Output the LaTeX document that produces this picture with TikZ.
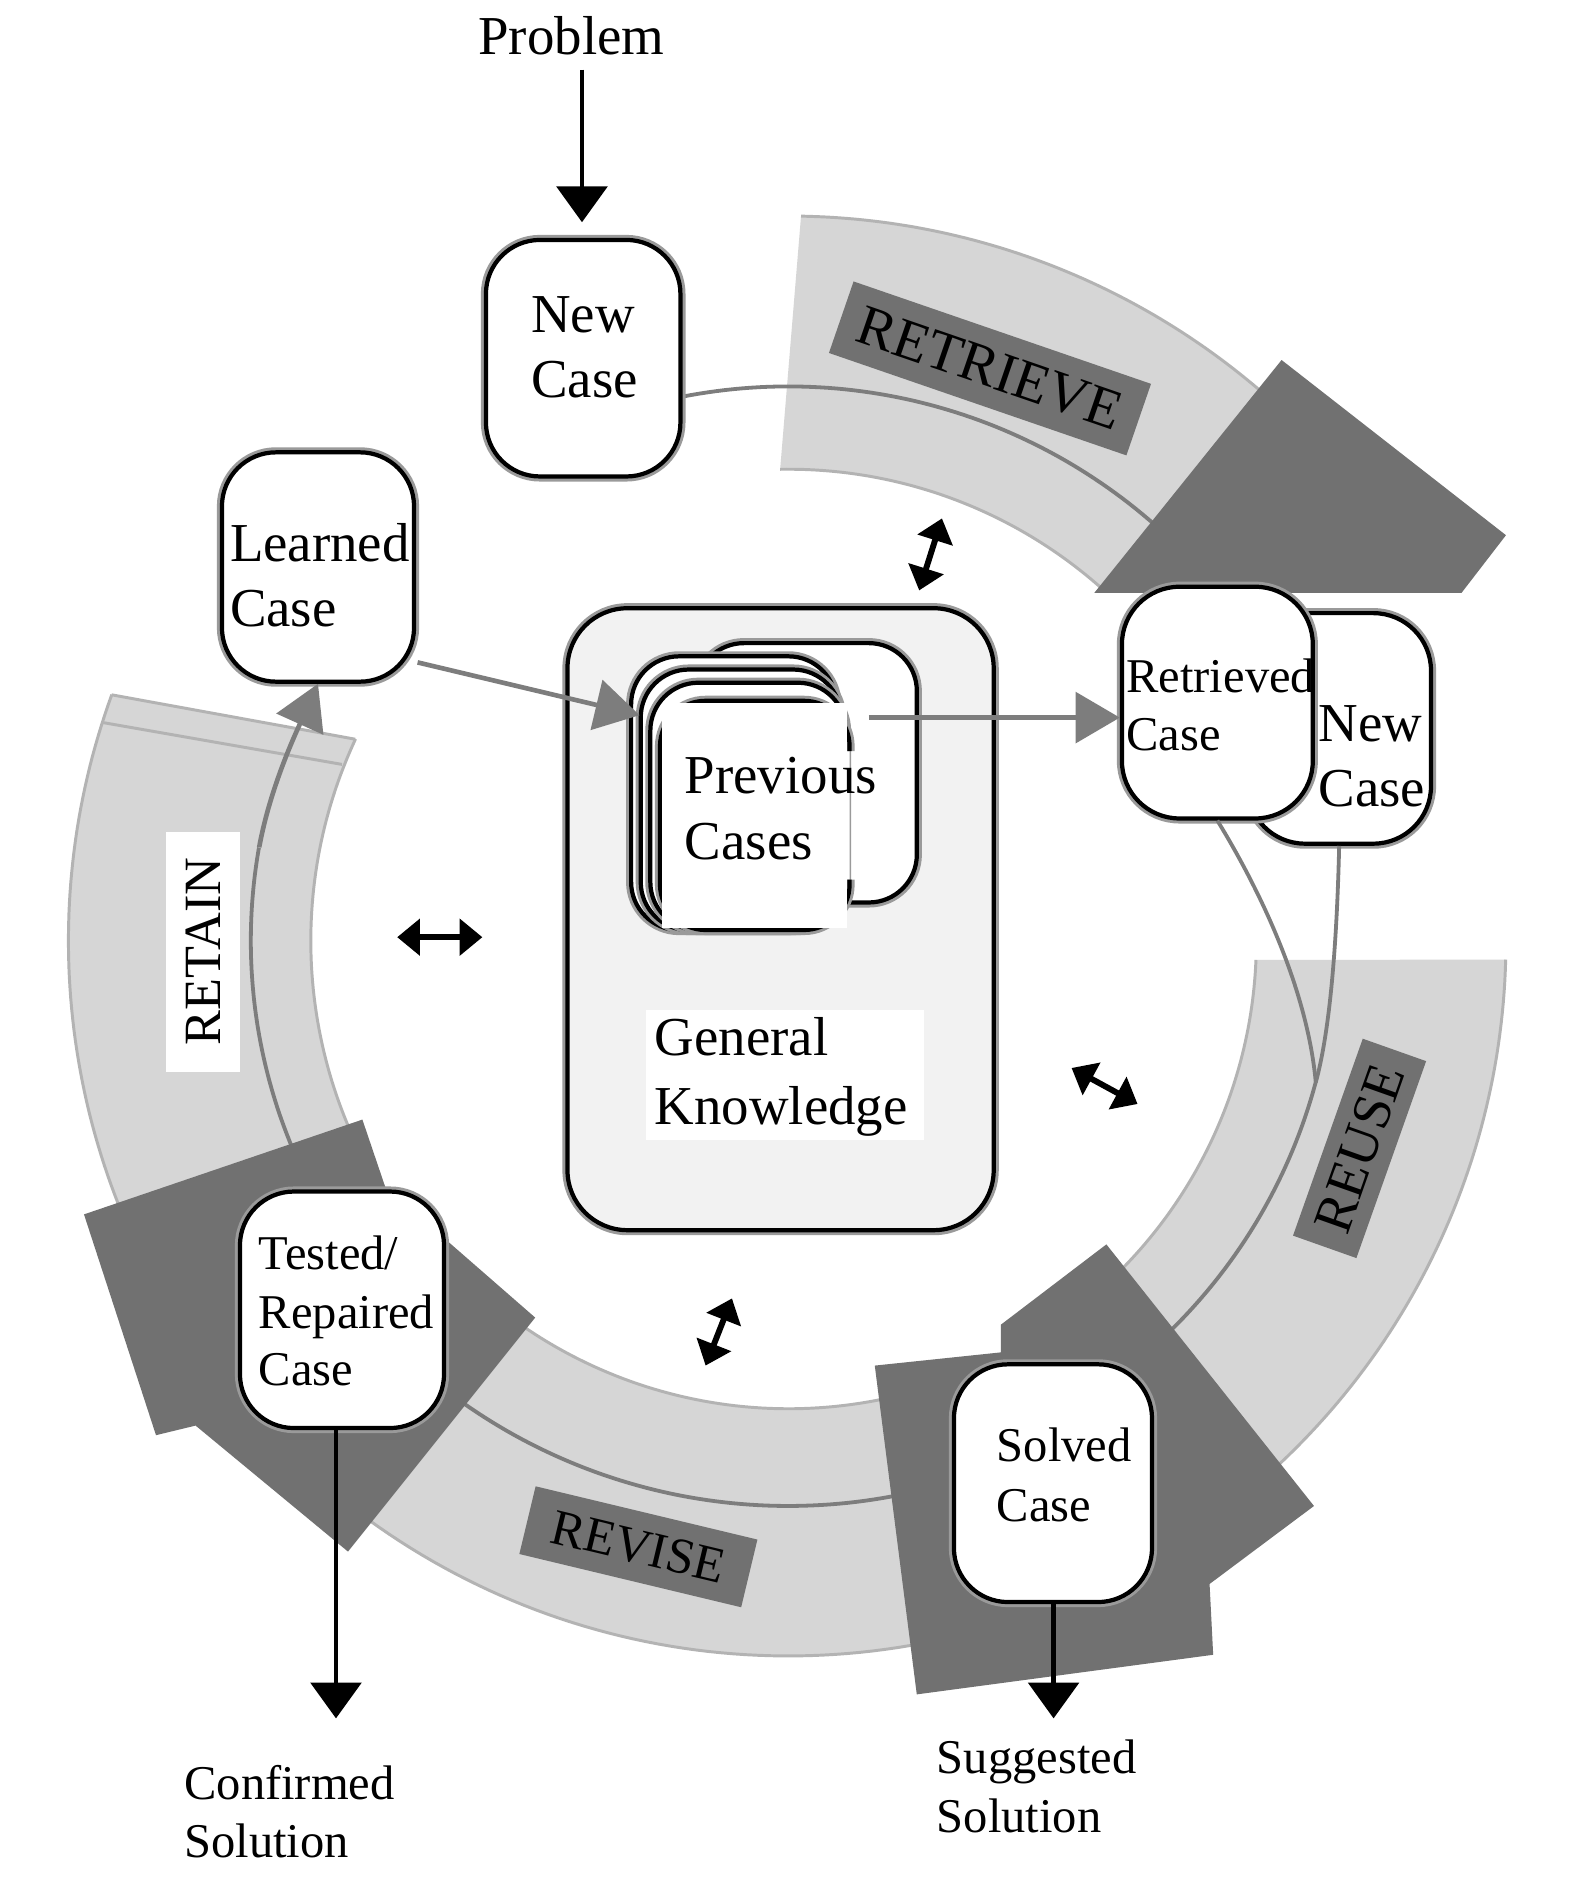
\documentclass[tikz,border=0pt]{standalone}
\usepackage{fontspec}
\setmainfont{Liberation Serif}
\usetikzlibrary{arrows.meta}
\definecolor{bandc}{HTML}{D6D6D6}
\definecolor{bedgec}{HTML}{B3B3B3}
\definecolor{darkc}{HTML}{717171}
\definecolor{flowc}{HTML}{7D7D7D}
\definecolor{gkc}{HTML}{F2F2F2}
\definecolor{haloc}{HTML}{9A9A9A}
\begin{document}
\begin{tikzpicture}[x=0.01cm,y=-0.01cm,
  bandfill/.style={fill=bandc},
  bedge/.style={draw=bedgec,line width=0.7pt},
  flowline/.style={draw=flowc,line width=0.9pt},
  casebox/.style={rectangle,draw=black,line width=1pt,fill=white,rounded corners=0.45cm,inner sep=0pt,preaction={draw=haloc,line width=2.4pt}},
  stackbox/.style={casebox,rounded corners=0.4cm},
  blk/.style={draw=black,line width=1pt,-{Triangle[length=8.5pt,width=12pt]}},
  garrow/.style={draw=flowc,line width=1.1pt,-{Triangle[length=10.5pt,width=12pt]}},
  dbl/.style={draw=black,line width=1.4pt,{Triangle[length=5.4pt,width=8.5pt]}-{Triangle[length=5.4pt,width=8.5pt]}},
  lab/.style={fill=darkc,inner sep=0pt},
  big/.style={font=\fontsize{13}{15}\selectfont,inner sep=0pt,anchor=base west},
  small/.style={font=\fontsize{11.5}{13}\selectfont,inner sep=0pt,anchor=base west}]

\path[use as bounding box,fill=white] (0,0) rectangle (1312.5,1566.7);

% ---------------- bands ----------------
% RETRIEVE
\fill[bandfill] plot[domain=89:48,samples=60] ({657+604*cos(\x)},{784-604*sin(\x)}) -- plot[domain=48:91,samples=60] ({657+393*cos(\x)},{784-393*sin(\x)}) -- cycle;
\draw[bedge] plot[domain=89:48,samples=60] ({657+604*cos(\x)},{784-604*sin(\x)});
\draw[bedge] plot[domain=91:48,samples=60] ({657+393*cos(\x)},{784-393*sin(\x)});
% RETAIN
\fill[bandfill] plot[domain=160:210,samples=60] ({657+600*cos(\x)},{784-600*sin(\x)}) -- plot[domain=210:155,samples=60] ({657+398*cos(\x)},{784-398*sin(\x)}) -- cycle;
\draw[bedge] plot[domain=160:210,samples=60] ({657+600*cos(\x)},{784-600*sin(\x)});
\draw[bedge] plot[domain=155:210,samples=60] ({657+398*cos(\x)},{784-398*sin(\x)});
\draw[bedge] (93,579) -- (296,616);
\draw[bedge] (85,602) -- (285,637);
% REUSE
\fill[bandfill] plot[domain=-1.5:-52,samples=60] ({657+598*cos(\x)},{784-598*sin(\x)}) -- plot[domain=-52:-2.35,samples=60] ({657+390*cos(\x)},{784-390*sin(\x)}) -- cycle;
\draw[bedge] plot[domain=-1.5:-52,samples=60] ({657+598*cos(\x)},{784-598*sin(\x)});
\draw[bedge] plot[domain=-2.35:-52,samples=60] ({657+390*cos(\x)},{784-390*sin(\x)});
% REVISE
\fill[bandfill] plot[domain=-70:-130,samples=60] ({657+596*cos(\x)},{784-596*sin(\x)}) -- plot[domain=-130:-70,samples=60] ({657+390*cos(\x)},{784-390*sin(\x)}) -- cycle;
\draw[bedge] plot[domain=-70:-130,samples=60] ({657+596*cos(\x)},{784-596*sin(\x)});
\draw[bedge] plot[domain=-70:-130,samples=60] ({657+390*cos(\x)},{784-390*sin(\x)});

% ---------------- flow lines on the ring ----------------
\draw[flowline] plot[domain=101:48.5,samples=60] ({657+462*cos(\x)},{784-462*sin(\x)});
\draw[flowline] plot[domain=-15:-50,samples=60] ({657+455*cos(\x)},{784-455*sin(\x)});
\draw[flowline] plot[domain=-75:-128,samples=60] ({657+471*cos(\x)},{784-471*sin(\x)});
\draw[flowline] plot[domain=205:170,samples=60] ({657+448*cos(\x)},{784-448*sin(\x)});

% ---------------- big arrow heads ----------------
\fill[darkc] (1068,300) -- (1255,446) -- (1218,494) -- (912,494) -- cycle;
\fill[darkc] (922,1037) -- (1095,1255) -- (1008,1320) -- (1011,1379) -- (764,1412) -- (729,1138) -- (834,1127) -- (834,1104) -- cycle;
\fill[darkc] (70,1012) -- (302,933) -- (321,989) -- (446,1098) -- (290,1293) -- (163,1188) -- (130,1196) -- cycle;

% ---------------- phase labels ----------------
\node[lab,rotate=-19,minimum width=2.62cm,minimum height=0.63cm,font=\fontsize{13.5}{15}\selectfont] (retrieve) at (825,307) {RETRIEVE};
\node[lab,rotate=-13.5,minimum width=1.9cm,minimum height=0.58cm,font=\fontsize{12}{14}\selectfont] (revise) at (532,1289) {REVISE};
\node[lab,rotate=70.5,minimum width=1.74cm,minimum height=0.56cm,font=\fontsize{13}{15}\selectfont] (reuse) at (1133,957) {REUSE};
\node[fill=white,inner sep=0pt,rotate=90,minimum width=2.0cm,minimum height=0.62cm,font=\fontsize{12.4}{14}\selectfont] (retain) at (169,793) {RETAIN};

% ---------------- general knowledge ----------------
\node[casebox,fill=gkc,rounded corners=0.5cm,minimum width=3.55cm,minimum height=5.18cm] (gk) at (650.5,766) {};
\node[fill=white,inner sep=0pt,minimum width=2.32cm,minimum height=1.08cm] (gkl) at (654,896) {};
\node[big] (tgk1) at (545,880) {General};
\node[big] (tgk2) at (545,937) {Knowledge};

% ---------------- previous cases stack ----------------
\node[stackbox,minimum width=1.84cm,minimum height=2.16cm] (pr) at (672,644) {};
\node[stackbox,minimum width=1.71cm,minimum height=2.28cm] (pc1) at (611.5,661) {};
\node[stackbox,minimum width=1.67cm,minimum height=2.17cm] (pc2) at (617.5,666.5) {};
\node[stackbox,minimum width=1.63cm,minimum height=2.06cm] (pc3) at (623.5,672) {};
\node[rectangle,fill=white,rounded corners=0.38cm,inner sep=0pt,minimum width=1.58cm,minimum height=1.91cm] (pc) at (629,679.5) {};
\draw[haloc,line width=2.4pt,rounded corners=0.38cm] (708,626) -- (708,584) -- (550,584) -- (550,775) -- (708,775) -- (708,733);
\draw[black,line width=1pt,rounded corners=0.38cm] (708,626) -- (708,584) -- (550,584) -- (550,775) -- (708,775) -- (708,733);
\fill[white] (552,586) rectangle (706,773);
\node[big] (tpc1) at (570,661) {Previous};
\node[big] (tpc2) at (570,716) {Cases};

% ---------------- case boxes ----------------
\node[casebox,minimum width=1.62cm,minimum height=1.97cm] (nc) at (486,298.5) {};
\node[casebox,minimum width=1.60cm,minimum height=1.91cm] (lc) at (265,472.5) {};
\node[casebox,rounded corners=0.48cm,minimum width=1.53cm,minimum height=1.92cm] (nc2) at (1116,607) {};
\node[casebox,rounded corners=0.48cm,minimum width=1.59cm,minimum height=1.93cm] (rc) at (1014.5,585.5) {};
\node[casebox,minimum width=1.70cm,minimum height=1.97cm] (tc) at (285,1091.5) {};
\node[casebox,minimum width=1.65cm,minimum height=1.98cm] (sc) at (877.5,1236) {};

\node[big] (tnc1) at (442,277) {New};
\node[big] (tnc2) at (442,331) {Case};
\node[big] (tlc1) at (191,468) {Learned};
\node[big] (tlc2) at (191,522) {Case};
\node[small] (trc1) at (938,577) {Retrieved};
\node[small] (trc2) at (938,625) {Case};
\node[big] (tnn1) at (1098,618) {New};
\node[big] (tnn2) at (1098,672) {Case};
\node[small] (ttc1) at (215,1058) {Tested/};
\node[small] (ttc2) at (215,1107) {Repaired};
\node[small] (ttc3) at (215,1155) {Case};
\node[small] (tsc1) at (830,1218) {Solved};
\node[small] (tsc2) at (830,1268) {Case};

\node[big] (tprob) at (398,45) {Problem};
\node[small] (tcs1) at (153,1500) {Confirmed};
\node[small] (tcs2) at (153,1548) {Solution};
\node[small] (tss1) at (780,1478) {Suggested};
\node[small] (tss2) at (780,1527) {Solution};

% ---------------- connectors ----------------
\coordinate (p1) at (485,58);
\draw[blk,shorten >=3.7pt] (p1) -- (p1 |- nc.north);
\coordinate (cs) at (280,1432);
\draw[blk] (cs |- tc.south) -- (cs);
\coordinate (ss) at (878,1432);
\draw[blk] (ss |- sc.south) -- (ss);

\coordinate (lp) at (348,552);
\coordinate (lpe) at (533,596);
\draw[garrow] (lp) -- (lpe);
\coordinate (pr1) at (724,598);
\draw[garrow] (pr1) -- (rc.west |- pr1);

% RETAIN line end to Learned Case
\draw[garrow] (216,706) .. controls (225,657) and (246,612) .. (lc.south);

% REUSE lines from retrieved / new case
\coordinate (mg) at (1096.5,902);
\draw[flowline] (rc.south) .. controls (1055,750) and (1090,830) .. (mg);
\draw[flowline] (nc2.south) .. controls (1114,790) and (1108,860) .. (mg);

% ---------------- small double arrows ----------------
\coordinate (d1a) at (766,492); \coordinate (d1b) at (785,432);
\coordinate (d2a) at (331,781); \coordinate (d2b) at (402,781);
\coordinate (d3a) at (893,890); \coordinate (d3b) at (948,920);
\coordinate (d4a) at (588,1138); \coordinate (d4b) at (610,1082);
\draw[dbl] (d1a) -- (d1b);
\draw[dbl] (d2a) -- (d2b);
\draw[dbl] (d3a) -- (d3b);
\draw[dbl] (d4a) -- (d4b);
\end{tikzpicture}
\end{document}
